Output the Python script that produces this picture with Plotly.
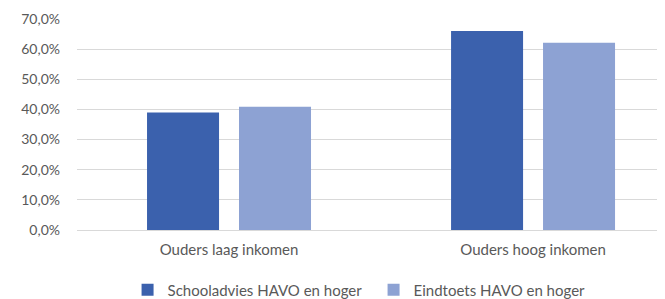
import plotly.graph_objects as go

categories = ["Ouders laag inkomen", "Ouders hoog inkomen"]
schooladvies = [0.390, 0.660]
eindtoets = [0.409, 0.621]
series_names = ["Schooladvies HAVO en hoger", "Eindtoets HAVO en hoger"]
tick_vals = [0, 0.1, 0.2, 0.3, 0.4, 0.5, 0.6, 0.7]

dark = "#3B61AD"
light = "#8DA2D3"
font = "Lato, 'Open Sans', sans-serif"

fig = go.Figure()
fig.add_trace(go.Bar(x=categories, y=schooladvies, name=series_names[0],
                     marker=dict(color=dark, line=dict(width=0))))
fig.add_trace(go.Bar(x=categories, y=eindtoets, name=series_names[1],
                     marker=dict(color=light, line=dict(width=0))))

# page body has an 8px default margin, so the figure is 657x291
fig.update_layout(
    width=657, height=291,
    margin=dict(l=69, r=0, t=11, b=69, autoexpand=False),
    paper_bgcolor="white", plot_bgcolor="white",
    separators=",.",
    barmode="group", bargap=0.395, bargroupgap=0.217,
    font=dict(family=font, size=14, color="#595959"),
    showlegend=True,
    legend=dict(orientation="h", x=0.086, xanchor="left", y=-0.284, yanchor="middle",
                font=dict(size=15, color="#595959"), itemwidth=30,
                entrywidth=201, entrywidthmode="pixels", traceorder="normal"),
)
fig.update_xaxes(range=[-0.5, 1.434], showgrid=False, showline=True,
                 linecolor="#D9D9D9", linewidth=1, ticks="", automargin=False,
                 ticklabelstandoff=6,
                 tickfont=dict(size=15, color="#595959"))
fig.update_yaxes(range=[0, 0.7], tickvals=tick_vals, tickformat=".1%",
                 showgrid=True, gridcolor="#D9D9D9", gridwidth=1, automargin=False,
                 zeroline=False, showline=False, ticks="",
                 ticklabelstandoff=16,
                 tickfont=dict(size=14, color="#595959"))

fig.write_html("out.html")
